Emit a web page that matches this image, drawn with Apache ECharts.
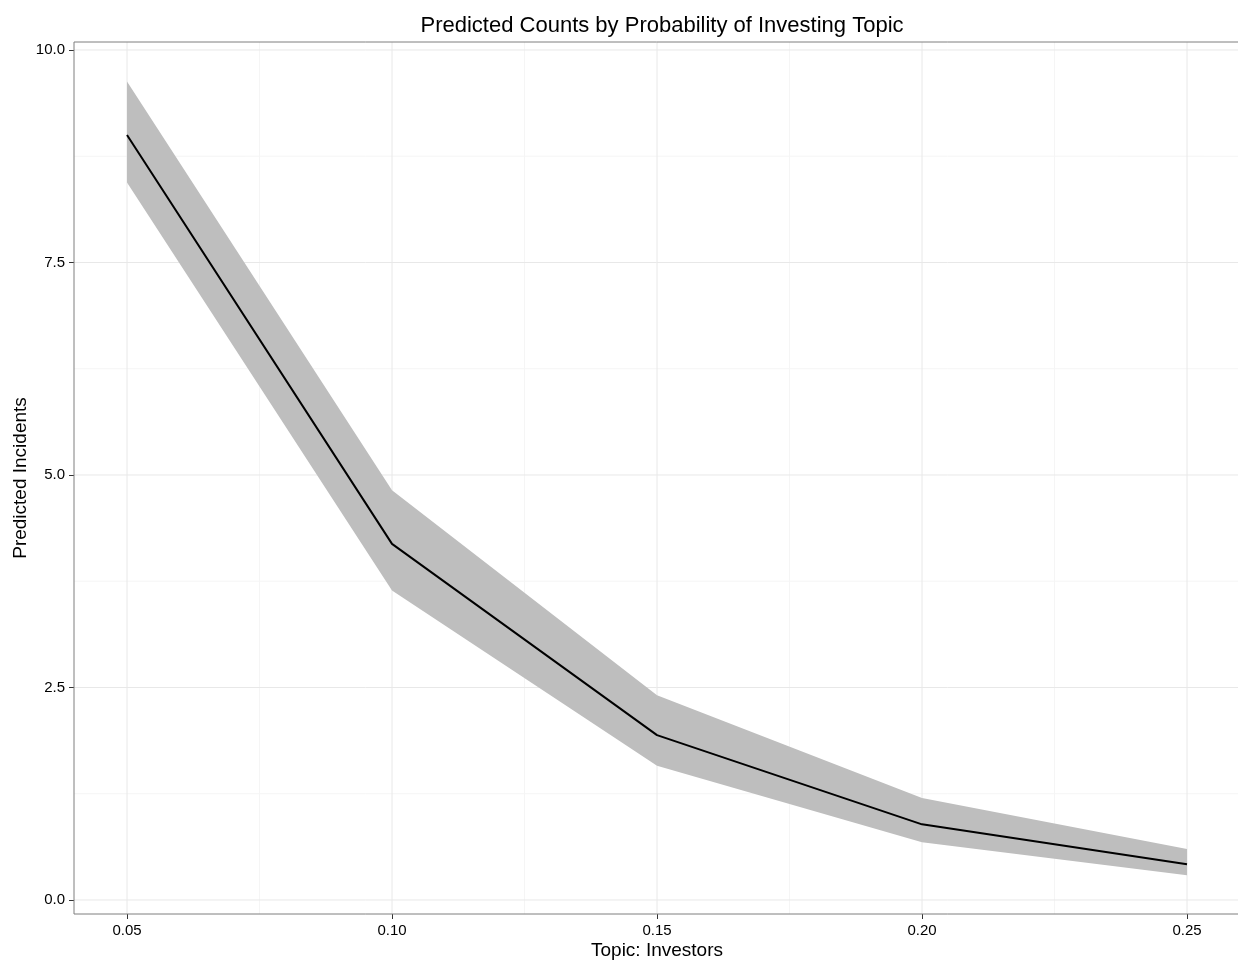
<!DOCTYPE html>
<html><head><meta charset="utf-8">
<script src="https://cdn.jsdelivr.net/npm/echarts@6/dist/echarts.min.js"></script>
<style>html,body{margin:0;padding:0;background:#fff}#c{width:1238px;height:964px}</style>
</head><body><div id="c"></div>
<script>
const xValues = [0.05, 0.10, 0.15, 0.20, 0.25];
const predicted = [9.00, 4.19, 1.94, 0.89, 0.42];
const upper = [9.63, 4.82, 2.41, 1.20, 0.60];
const lower = [8.44, 3.64, 1.58, 0.68, 0.29];
const xTicks = [0.05, 0.10, 0.15, 0.20, 0.25];
const xMinor = [0.075, 0.125, 0.175, 0.225];
const yTicks = [0, 2.5, 5, 7.5, 10];
const yMinor = [1.25, 3.75, 6.25, 8.75];
const xMin = 0.04, xMax = 0.26, yMin = -0.165, yMax = 10.094;

const chart = echarts.init(document.getElementById('c'));
const font = 'Liberation Sans, Arial, Helvetica, sans-serif';
const gridSeries = (vals, axis, color) => ({
  type: 'custom', z: 0, silent: true,
  data: vals.map(v => axis === 'x' ? [v, yMin] : [xMin, v]),
  renderItem: (params, api) => {
    const v = vals[params.dataIndex];
    const a = axis === 'x' ? api.coord([v, yMin]) : api.coord([xMin, v]);
    const b = axis === 'x' ? api.coord([v, yMax]) : api.coord([xMax, v]);
    return {type: 'line', shape: {x1: a[0], y1: a[1], x2: b[0], y2: b[1]}, style: {stroke: color, lineWidth: 1}};
  },
  encode: {x: 0, y: 1}
});
chart.setOption({
  animation: false,
  backgroundColor: '#fff',
  title: {text: 'Predicted Counts by Probability of Investing Topic', left: 657, top: 10, textAlign: 'center',
    textStyle: {fontFamily: font, fontSize: 22, fontWeight: 'normal', color: '#000'}},
  grid: {left: 74, top: 42, width: 1166, height: 872, show: true, borderColor: '#7f7f7f', borderWidth: 1,
    backgroundColor: 'transparent', z: 5, outerBoundsMode: 'none', containLabel: false},
  xAxis: {
    type: 'value', min: xMin, max: xMax,
    name: 'Topic: Investors', nameLocation: 'middle', nameGap: 27, nameMoveOverlap: false,
    nameTextStyle: {fontFamily: font, fontSize: 19, color: '#000'},
    axisLine: {show: false, onZero: false},
    axisTick: {show: true, inside: false, length: 5, customValues: xTicks, lineStyle: {color: '#333', width: 1}},
    axisLabel: {customValues: xTicks, formatter: v => v.toFixed(2), fontFamily: font, fontSize: 15, color: '#000', margin: 9},
    splitLine: {show: false}
  },
  yAxis: {
    type: 'value', min: yMin, max: yMax,
    name: 'Predicted Incidents', nameLocation: 'middle', nameGap: 44, nameRotate: 90, nameMoveOverlap: false,
    nameTextStyle: {fontFamily: font, fontSize: 19, color: '#000'},
    axisLine: {show: false, onZero: false},
    axisTick: {show: true, inside: false, length: 5, customValues: yTicks, lineStyle: {color: '#333', width: 1}},
    axisLabel: {customValues: yTicks, formatter: v => v.toFixed(1), fontFamily: font, fontSize: 15, color: '#000', margin: 9},
    splitLine: {show: false}
  },
  series: [
    gridSeries(xMinor, 'x', '#f5f5f5'),
    gridSeries(yMinor, 'y', '#f5f5f5'),
    gridSeries(xTicks, 'x', '#e8e8e8'),
    gridSeries(yTicks, 'y', '#e8e8e8'),
    {
      type: 'custom', z: 2, silent: true,
      data: xValues.map((x, i) => [x, lower[i], upper[i]]),
      renderItem: (params, api) => {
        if (params.dataIndex !== 0) return null;
        const pts = [];
        for (let i = 0; i < xValues.length; i++) pts.push(api.coord([xValues[i], upper[i]]));
        for (let i = xValues.length - 1; i >= 0; i--) pts.push(api.coord([xValues[i], lower[i]]));
        return {type: 'polygon', shape: {points: pts}, style: {fill: '#bebebe'}};
      },
      encode: {x: 0, y: [1, 2]}
    },
    {
      type: 'line', z: 3, data: xValues.map((x, i) => [x, predicted[i]]),
      showSymbol: false, symbol: 'none', lineStyle: {color: '#000', width: 2}
    }
  ]
});
</script></body></html>
